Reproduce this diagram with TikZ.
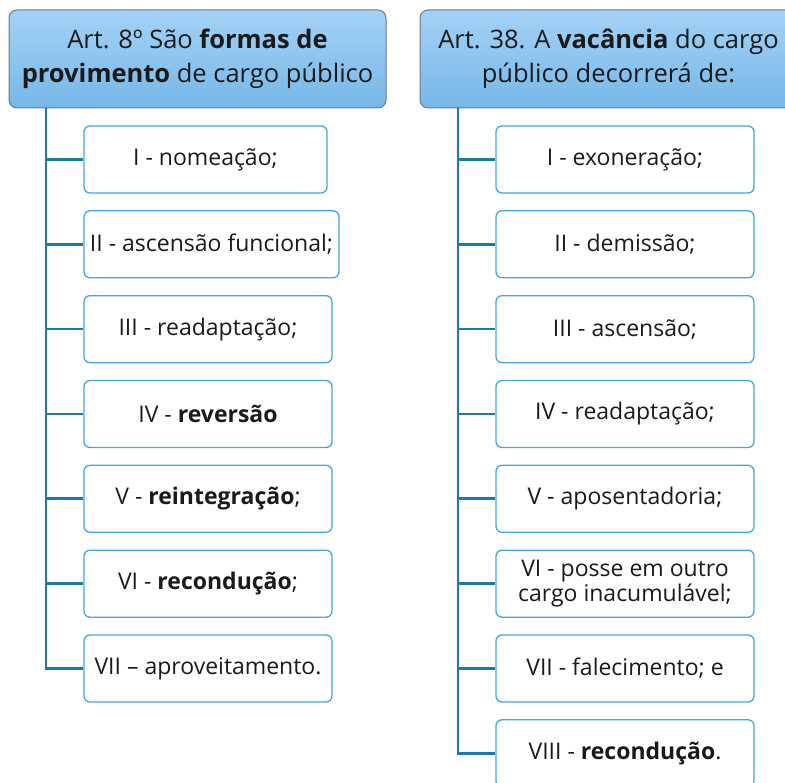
\documentclass[tikz,border=0pt]{standalone}
\usepackage{fontspec}
\setmainfont{Open Sans}
\definecolor{connc}{HTML}{1E78A8}
\definecolor{boxc}{HTML}{3FA9DE}
\definecolor{htop}{HTML}{A3D2F5}
\definecolor{hbot}{HTML}{77B7E8}
\definecolor{hborder}{HTML}{6D7A86}
\definecolor{txt}{HTML}{1A1A1A}
\begin{document}
\begin{tikzpicture}[x=1pt,y=-1pt,
  hdr/.style={draw=hborder, line width=1pt, rounded corners=8pt, top color=htop, bottom color=hbot,
    minimum width=377pt, minimum height=98pt, align=center, inner sep=0pt, text=txt,
    font=\fontsize{25.5}{34}\selectfont},
  item/.style={draw=boxc, line width=1.3pt, rounded corners=6pt, fill=white, minimum height=67pt,
    align=center, inner sep=0pt, text=txt, font=\fontsize{23}{24.5}\selectfont},
  link/.style={draw=connc, line width=2.6pt}]
\useasboundingbox (0,0) rectangle (785,783);
\clip (0,0) rectangle (785,783);
% headers
\node[hdr] (h1) at (197.5,59) {Art. 8º São \textbf{formas de}\\\textbf{provimento} de cargo público};
\node[hdr] (h2) at (608.5,59) {Art. 38. A \textbf{vacância} do cargo\\público decorrerá de:};
% left items
\node[item, minimum width=243pt] (a1) at (205.5,159.5) {I - nomeação;};
\node[item, minimum width=255pt] (a2) at (211.5,244.3) {II - ascensão funcional;};
\node[item, minimum width=248pt] (a3) at (208,329.2) {III - readaptação;};
\node[item, minimum width=248pt] (a4) at (208,414) {IV - \textbf{reversão}};
\node[item, minimum width=248pt] (a5) at (208,498.8) {V - \textbf{reintegração};};
\node[item, minimum width=248pt] (a6) at (208,583.7) {VI - \textbf{recondução};};
\node[item, minimum width=248pt] (a7) at (208,668.5) {VII – aproveitamento.};
% right items
\node[item, minimum width=258pt] (b1) at (625,159.5) {I - exoneração;};
\node[item, minimum width=258pt] (b2) at (625,244.3) {II - demissão;};
\node[item, minimum width=258pt] (b3) at (625,329.2) {III - ascensão;};
\node[item, minimum width=258pt] (b4) at (625,414) {IV - readaptação;};
\node[item, minimum width=258pt] (b5) at (625,498.8) {V - aposentadoria;};
\node[item, minimum width=258pt] (b6) at (625,583.7) {VI - posse em outro\\cargo inacumulável;};
\node[item, minimum width=258pt] (b7) at (625,668.5) {VII - falecimento; e};
\node[item, minimum width=258pt] (b8) at (625,753.3) {VIII - \textbf{recondução}.};
% connectors
\coordinate (t1) at (46,108);
\coordinate (t2) at (458,108);
\foreach \n in {a1,a2,a3,a4,a5,a6,a7} \draw[link] (t1) |- (\n.west);
\foreach \n in {b1,b2,b3,b4,b5,b6,b7,b8} \draw[link] (t2) |- (\n.west);
\end{tikzpicture}
\end{document}
